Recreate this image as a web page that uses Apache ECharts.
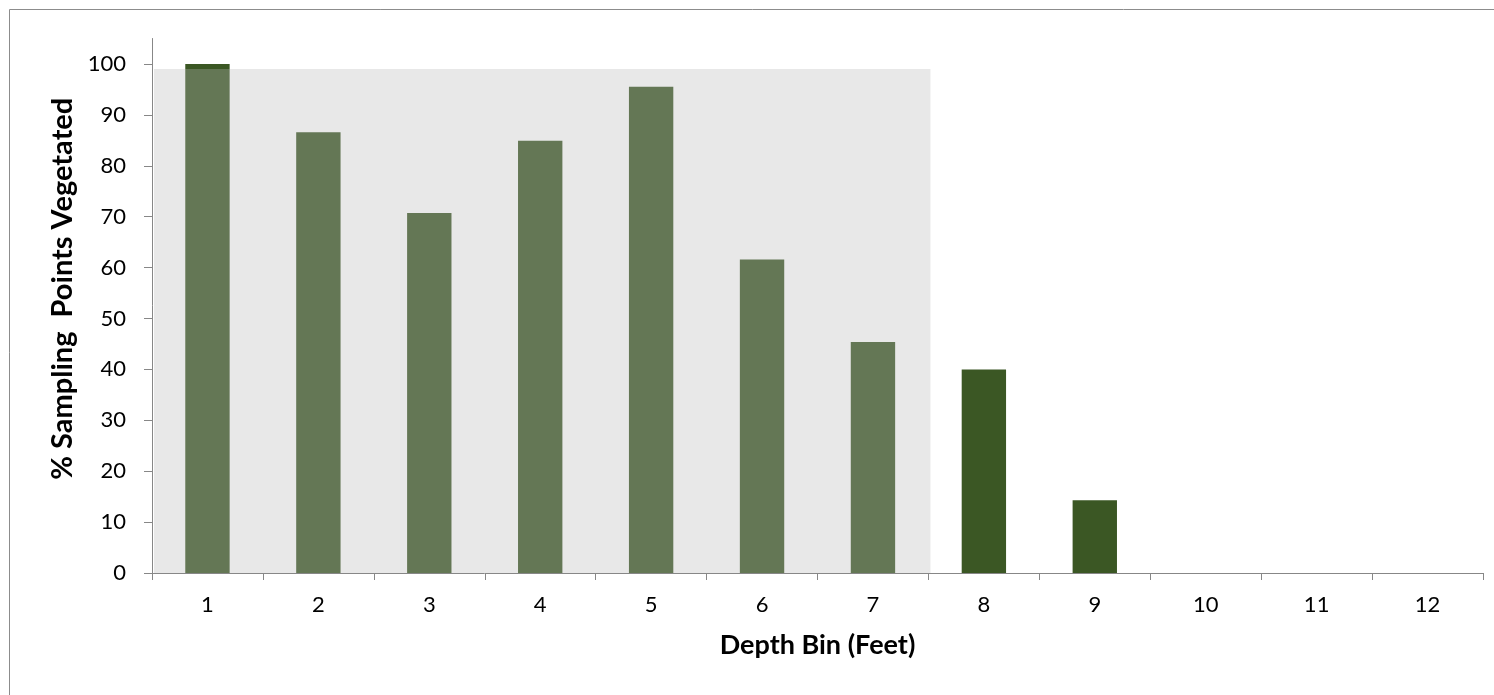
<!DOCTYPE html>
<html>
<head>
<meta charset="utf-8">
<script src="https://cdn.jsdelivr.net/npm/echarts@6/dist/echarts.min.js"></script>
<style>
  html, body { margin: 0; padding: 0; background: #fff; }
  #chart { width: 1494px; height: 695px; }
</style>
</head>
<body>
<div id="chart"></div>
<script>
// ---- data ----
const depthBins = ['1', '2', '3', '4', '5', '6', '7', '8', '9', '10', '11', '12'];
const pctVegetated = [100, 86.6, 70.7, 84.9, 95.5, 61.6, 45.4, 40.0, 14.3, 0, 0, 0];
const yTickValues = [0, 10, 20, 30, 40, 50, 60, 70, 80, 90, 100];
const shadedRange = [0, 6];   // category indices (bins 1..7)
const shadedTop = 99;

const FONT = 'Lato';
const chart = echarts.init(document.getElementById('chart'), null, { renderer: 'canvas' });

chart.setOption({
  animation: false,
  backgroundColor: '#ffffff',
  grid: { left: 152, right: 11, top: 38.5, bottom: 122 },
  graphic: [{
    type: 'rect',
    shape: { x: 9.5, y: 9.5, width: 1600, height: 800 },
    style: { fill: 'none', stroke: '#8c8c8c', lineWidth: 1 },
    silent: true, z: -10
  }],
  xAxis: {
    type: 'category',
    data: depthBins,
    name: 'Depth Bin (Feet)',
    nameLocation: 'middle',
    nameGap: 59,
    nameTextStyle: { fontFamily: FONT, fontWeight: 'bold', fontSize: 27, color: '#000' },
    axisLine: { lineStyle: { color: '#878787', width: 1 } },
    axisTick: { show: true, length: 7, lineStyle: { color: '#878787' } },
    axisLabel: { fontFamily: FONT, fontSize: 22, color: '#000', margin: 21 },
    splitLine: { show: false }
  },
  yAxis: {
    type: 'value',
    min: 0,
    max: 105,
    name: '% Sampling  Points Vegetated',
    nameLocation: 'middle',
    nameGap: 74,
    nameRotate: 90,
    nameTextStyle: { fontFamily: FONT, fontWeight: 'bold', fontSize: 29, color: '#000', padding: [0, 0, 0, 34] },
    axisLine: { show: true, lineStyle: { color: '#878787', width: 1 } },
    axisTick: { show: true, length: 8, customValues: yTickValues, lineStyle: { color: '#878787' } },
    axisLabel: { fontFamily: FONT, fontSize: 22, color: '#000', margin: 26, customValues: yTickValues },
    splitLine: { show: false }
  },
  series: [
    {
      type: 'bar',
      data: pctVegetated,
      barWidth: '40%',
      itemStyle: { color: '#3b5724' },
      z: 2
    },
    {
      type: 'custom',
      z: 5,
      silent: true,
      data: [[shadedRange[0], shadedRange[1], shadedTop]],
      encode: { x: [0, 1], y: 2 },
      renderItem: function (params, api) {
        const p0 = api.coord([api.value(0), 0]);
        const p1 = api.coord([api.value(1), api.value(2)]);
        const band = api.size([1, 0])[0];
        return {
          type: 'rect',
          shape: { x: p0[0] - band / 2 + 2, y: p1[1], width: p1[0] - p0[0] + band, height: p0[1] - p1[1] },
          style: { fill: 'rgba(185,185,185,0.33)' }
        };
      }
    }
  ]
});
</script>
</body>
</html>
